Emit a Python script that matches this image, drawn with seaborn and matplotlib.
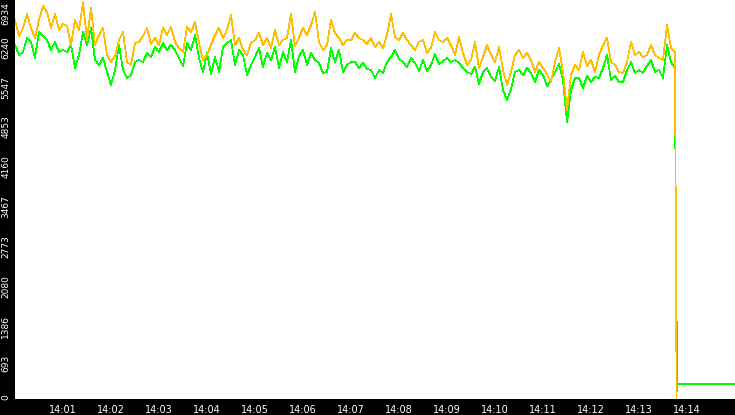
import numpy as np
import pandas as pd
import matplotlib
matplotlib.use('Agg')
import matplotlib.pyplot as plt
import matplotlib.dates as mdates
from matplotlib.transforms import ScaledTranslation
import seaborn as sns

# values, one sample every 5 s from 14:00:00
orange_vals = [
    6586, 6308, 6447, 6690, 6447, 6273, 6586, 6830, 6725, 6447,
    6690, 6412, 6516, 6482, 6151, 6586, 6412, 6899, 6238, 6795,
    6151, 6325, 6447, 5977, 5855, 5960, 6238, 6377, 5855,
    5803, 6186, 6203, 6308, 6447, 6168, 6273, 6151, 6447, 6325,
    6464, 6203, 6099, 6029, 6464, 6377, 6551, 6186, 5890, 5977,
    6151, 6325, 6447, 6273, 6412, 6673, 6151, 6273,
    6064, 5977, 6186, 6238, 6360, 6151, 6273, 6099, 6412, 6151,
    6238, 6273, 6690, 6134, 6273, 6447, 6325, 6499, 6725, 6203,
    6064, 6151, 6586, 6360, 6273, 6151, 6238,
    6238, 6360, 6273, 6238, 6168, 6273, 6116, 6203, 6099, 6325,
    6690, 6290, 6238, 6360, 6238, 6151, 6064, 6203, 6238, 6012,
    6099, 6377, 6238, 6203, 6273, 6151, 5977, 6290,
    6012, 5803, 5890, 6203, 5751, 5942, 6151, 5977, 5855, 6116,
    5716, 5455, 5681, 5977, 6064, 5925, 6012, 5890, 5681, 5855,
    5751, 5646, 5507, 5855, 6099, 5681, 5020,
    5629, 5803, 5716, 6029, 5786, 5890, 5681, 5977, 6151, 6273,
    5855, 5803, 5681, 5664, 5855, 6203, 5977, 6029, 5942, 5977,
    6151, 5977, 5925, 5890, 6499, 6099, 6029,
]
green_vals = [
    6151, 5977, 6029, 6273, 6203, 5925, 6377, 6308, 6238, 6064,
    6203, 6029, 6064, 6029, 6151, 5751, 5977, 6377, 6151, 6447,
    5890, 5803, 5925, 5681, 5455, 5716, 6151, 5716, 5577,
    5629, 5855, 5890, 5855, 6012, 5942, 6116, 6029, 6186, 6064,
    6151, 6064, 5925, 5786, 6186, 6064, 6325, 5925, 5681, 6012,
    5646, 5942, 5681, 6116, 6186, 6238, 5803, 6064,
    5977, 5629, 5803, 5942, 6099, 5768, 6012, 5890, 6116, 5751,
    6029, 5855, 6238, 5681, 5960, 6064, 5803, 6012, 5890, 5838,
    5664, 5681, 6099, 5855, 6064, 5681, 5803,
    5855, 5855, 5751, 5838, 5733, 5716, 5577, 5716, 5664, 5855,
    5942, 6064, 5907, 5855, 5768, 5925, 5838, 5699, 5890, 5699,
    5803, 5994, 5820, 5873, 5925, 5855, 5890, 5838,
    5751, 5681, 5646, 5768, 5472, 5681, 5751, 5594, 5525, 5768,
    5368, 5194, 5385, 5681, 5716, 5629, 5751, 5664, 5507, 5716,
    5629, 5438, 5542, 5681, 5820, 5542, 4811,
    5368, 5577, 5577, 5403, 5612, 5507, 5594, 5577, 5751, 5977,
    5542, 5612, 5507, 5507, 5716, 5855, 5664, 5716, 5664, 5786,
    5890, 5681, 5716, 5577, 6151, 5855, 5751,
]
# the drop at the end (seconds after 14:00:00)
orange_tail_sec = [826, 827]
orange_tail = [2840, 0]
green_tail_sec = [826, 826.5, 827.5, 828, 900]
green_tail = [2840, 2700, 120, 250, 250]

y_ticks = [0, 693.4, 1386.8, 2080.2, 2773.6, 3467, 4160.4, 4853.8, 5547.2, 6240.6, 6934]
y_labels = ['0', '693', '1386', '2080', '2773', '3467', '4160', '4853', '5547', '6240', '6934']

start = pd.Timestamp('2024-01-01 14:00:00')
sec_o = list(np.arange(len(orange_vals)) * 5) + orange_tail_sec
sec_g = list(np.arange(len(green_vals)) * 5) + green_tail_sec
df_o = pd.DataFrame({'t': start + pd.to_timedelta(sec_o, unit='s'), 'v': orange_vals + orange_tail})
df_g = pd.DataFrame({'t': start + pd.to_timedelta(sec_g, unit='s'), 'v': green_vals + green_tail})

sns.set_style('white')
plt.rcParams['font.family'] = ['DejaVu Sans']

fig = plt.figure(figsize=(7.35, 4.15), dpi=100, facecolor='black')
ax = fig.add_axes([15 / 735, 16.5 / 415, 720 / 735, 398.5 / 415])
ax.set_facecolor('white')

sns.lineplot(data=df_g, x='t', y='v', color='#00FF00', lw=0.55, ax=ax, sort=False, antialiased=False)
sns.lineplot(data=df_o, x='t', y='v', color='#FFBF00', lw=0.55, ax=ax, sort=False, antialiased=False)

ax.set_xlim(start, start + pd.Timedelta(minutes=15))
ax.set_ylim(0, 6934)
ax.set_xlabel('')
ax.set_ylabel('')

ax.set_xticks([start + pd.Timedelta(minutes=m) for m in range(1, 15)])
ax.xaxis.set_major_formatter(mdates.DateFormatter('%H:%M'))
ax.set_yticks(y_ticks)
ax.set_yticklabels(y_labels, rotation=90, va='top')

ax.tick_params(axis='x', colors='white', length=4, width=0.75, direction='out',
               labelsize=7, pad=1)
ax.tick_params(axis='y', colors='white', length=3, width=0.75, direction='out',
               labelsize=6.5, pad=0.5)
# nudge the rotated y labels a little upwards, as in the reference (not the top one)
shift = ScaledTranslation(0, 4 / 100, fig.dpi_scale_trans)
top_shift = ScaledTranslation(0, -2 / 100, fig.dpi_scale_trans)
labs = ax.get_yticklabels()
for lab in labs[:-1]:
    lab.set_transform(lab.get_transform() + shift)
labs[-1].set_transform(labs[-1].get_transform() + top_shift)
for s in ax.spines.values():
    s.set_visible(False)

fig.savefig('out.png', dpi=100, facecolor='black')
